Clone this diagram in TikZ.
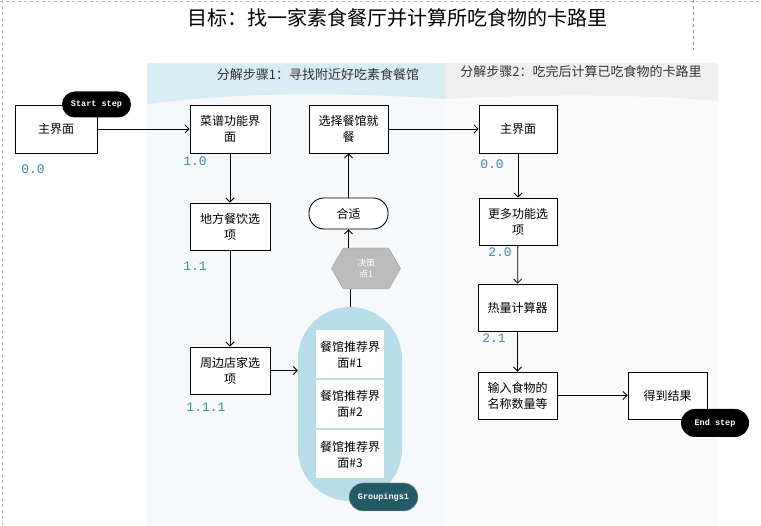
\documentclass[tikz,border=0pt]{standalone}
\usepackage{fontspec}
\newfontfamily\cjk{Noto Sans CJK SC}
\newfontfamily\mono{Liberation Mono}
\usetikzlibrary{arrows.meta, shapes.symbols}
\definecolor{lblteal}{RGB}{58,139,166}
\definecolor{grpblue}{RGB}{183,221,232}
\definecolor{grpdark}{RGB}{35,90,104}
\definecolor{hdrblue}{RGB}{216,236,243}
\definecolor{bodyblue}{RGB}{245,249,251}
\definecolor{hdrgray}{RGB}{239,239,239}
\definecolor{bodygray}{RGB}{250,250,250}
\definecolor{hexgray}{RGB}{187,187,187}

\begin{document}
\begin{tikzpicture}[x=1pt, y=-1pt, >={Straight Barb[length=4pt, width=8pt]},
    box/.style={draw, line width=0.9pt, fill=white, minimum width=80pt, minimum height=48pt,
        inner sep=1pt, align=center, font=\cjk\fontsize{12}{16}\selectfont},
    gbox/.style={fill=white, minimum width=68pt, minimum height=48pt, inner sep=0pt,
        align=center, font=\cjk\fontsize{12}{16}\selectfont},
    pill/.style={fill=black, text=white, minimum width=69pt, minimum height=26pt,
        rounded corners=13pt, inner sep=0pt, font=\mono\bfseries\fontsize{8.5}{9}\selectfont},
    lbl/.style={text=lblteal, inner sep=0pt, font=\mono\fontsize{13}{14}\selectfont},
    hdr/.style={text=black!80, inner sep=0pt, font=\cjk\fontsize{13}{15}\selectfont},
    flow/.style={->, line width=0.8pt}]
    \useasboundingbox (0,0) rectangle (761,526);
    \fill[white] (0,0) rectangle (761,526);
    % Khung
    \draw[black!25, dashed] (2,0) -- (2,526);
    \draw[black!25, dashed] (0,1) -- (761,1);
    \draw[black!45, dashed] (693,0) -- (693,50);
    % Tiêu đề
    \node[font=\cjk\fontsize{20}{22}\selectfont, inner sep=0pt] (title) at (397,18)
        {目标：找一家素食餐厅并计算所吃食物的卡路里};
    % Hai giai đoạn
    \fill[bodyblue] (147,63) rectangle (445,526);
    \fill[bodygray] (445,63) rectangle (718,526);
    \fill[hdrblue] (147,63) -- (445,63) -- (445,99) .. controls (340,92) and (240,92) .. (147,104) -- cycle;
    \fill[hdrgray] (445,63) -- (718,63) -- (718,101) .. controls (640,94) and (540,94) .. (445,99) -- cycle;
    \node[hdr] (step1) at (318,75) {分解步骤1：寻找附近好吃素食餐馆};
    \node[hdr] (step2) at (581,72) {分解步骤2：吃完后计算已吃食物的卡路里};
    % Các bước
    \node[box, minimum width=82pt] (home) at (56,129) {主界面};
    \node[box] (menu) at (230,129) {菜谱功能界\\面};
    \node[box, minimum height=47pt] (local) at (230,226.5) {地方餐饮选\\项};
    \node[box, minimum height=47pt] (near) at (230,370.5) {周边店家选\\项};
    \node[box, minimum width=79pt] (pick) at (348.5,129) {选择餐馆就\\餐};
    \node[box, minimum width=79pt, minimum height=31pt, rounded corners=15pt] (fit) at (348.5,213.5) {合适};
    \node[signal, signal to=east and west, signal pointer angle=120, fill=hexgray, draw=black!40,
        minimum width=69pt, minimum height=41pt, inner sep=0pt, text=white, align=center,
        font=\cjk\fontsize{9}{11}\selectfont] (dec) at (366,268.5) {决策\\点1};
    \node[box, minimum width=78pt] (home2) at (518,129) {主界面};
    \node[box, minimum width=78pt, minimum height=47pt] (more) at (518,221.5) {更多功能选\\项};
    \node[box, minimum width=79pt, minimum height=47pt] (calc) at (517.5,307.5) {热量计算器};
    \node[box, minimum width=79pt, minimum height=47pt] (input) at (517.5,395.5) {输入食物的\\名称数量等};
    \node[box, minimum width=79pt, minimum height=47pt] (result) at (667.5,395.5) {得到结果};
    % Nhóm
    \node[fill=grpblue, minimum width=104pt, minimum height=194pt, rounded corners=52pt] (grp) at (350,404) {};
    \node[gbox] (rest1) at (350,354.5) {餐馆推荐界\\面\#1};
    \node[gbox] (rest2) at (350,404) {餐馆推荐界\\面\#2};
    \node[gbox] (rest3) at (350,454.5) {餐馆推荐界\\面\#3};
    \node[pill, fill=grpdark, draw=black!35, minimum height=28pt, rounded corners=14pt] (grpname) at (383.5,497) {Groupings1};
    % Bắt đầu, kết thúc
    \node[pill] (start) at (96.5,104.5) {Start step};
    \node[pill, minimum width=68pt, minimum height=28pt, rounded corners=14pt] (stop) at (715,423) {End step};
    % Số hiệu
    \node[lbl] (n00) at (33,169) {0.0};
    \node[lbl] (n10) at (195,161) {1.0};
    \node[lbl] (n11) at (195,266) {1.1};
    \node[lbl] (n111) at (206,407) {1.1.1};
    \node[lbl] (n00b) at (492,164) {0.0};
    \node[lbl] (n20) at (500,252) {2.0};
    \node[lbl] (n21) at (494,338) {2.1};
    % Mũi tên
    \draw[flow] (home) -- (menu);
    \draw[flow] (menu) -- (local);
    \draw[flow] (local) -- (near);
    \draw[flow] (near.east) -- (near.east -| grp.west);
    \draw[line width=0.8pt] (grp.north) -- (grp.north |- dec.south);
    \draw[flow] (fit.south |- dec.north) -- (fit.south);
    \draw[flow] (fit.north) -- (pick.south);
    \draw[flow] (pick) -- (home2);
    \draw[flow] (home2) -- (more);
    \draw[flow] (more) -- (calc);
    \draw[flow] (calc) -- (input);
    \draw[flow] (input) -- (result);
\end{tikzpicture}
\end{document}
